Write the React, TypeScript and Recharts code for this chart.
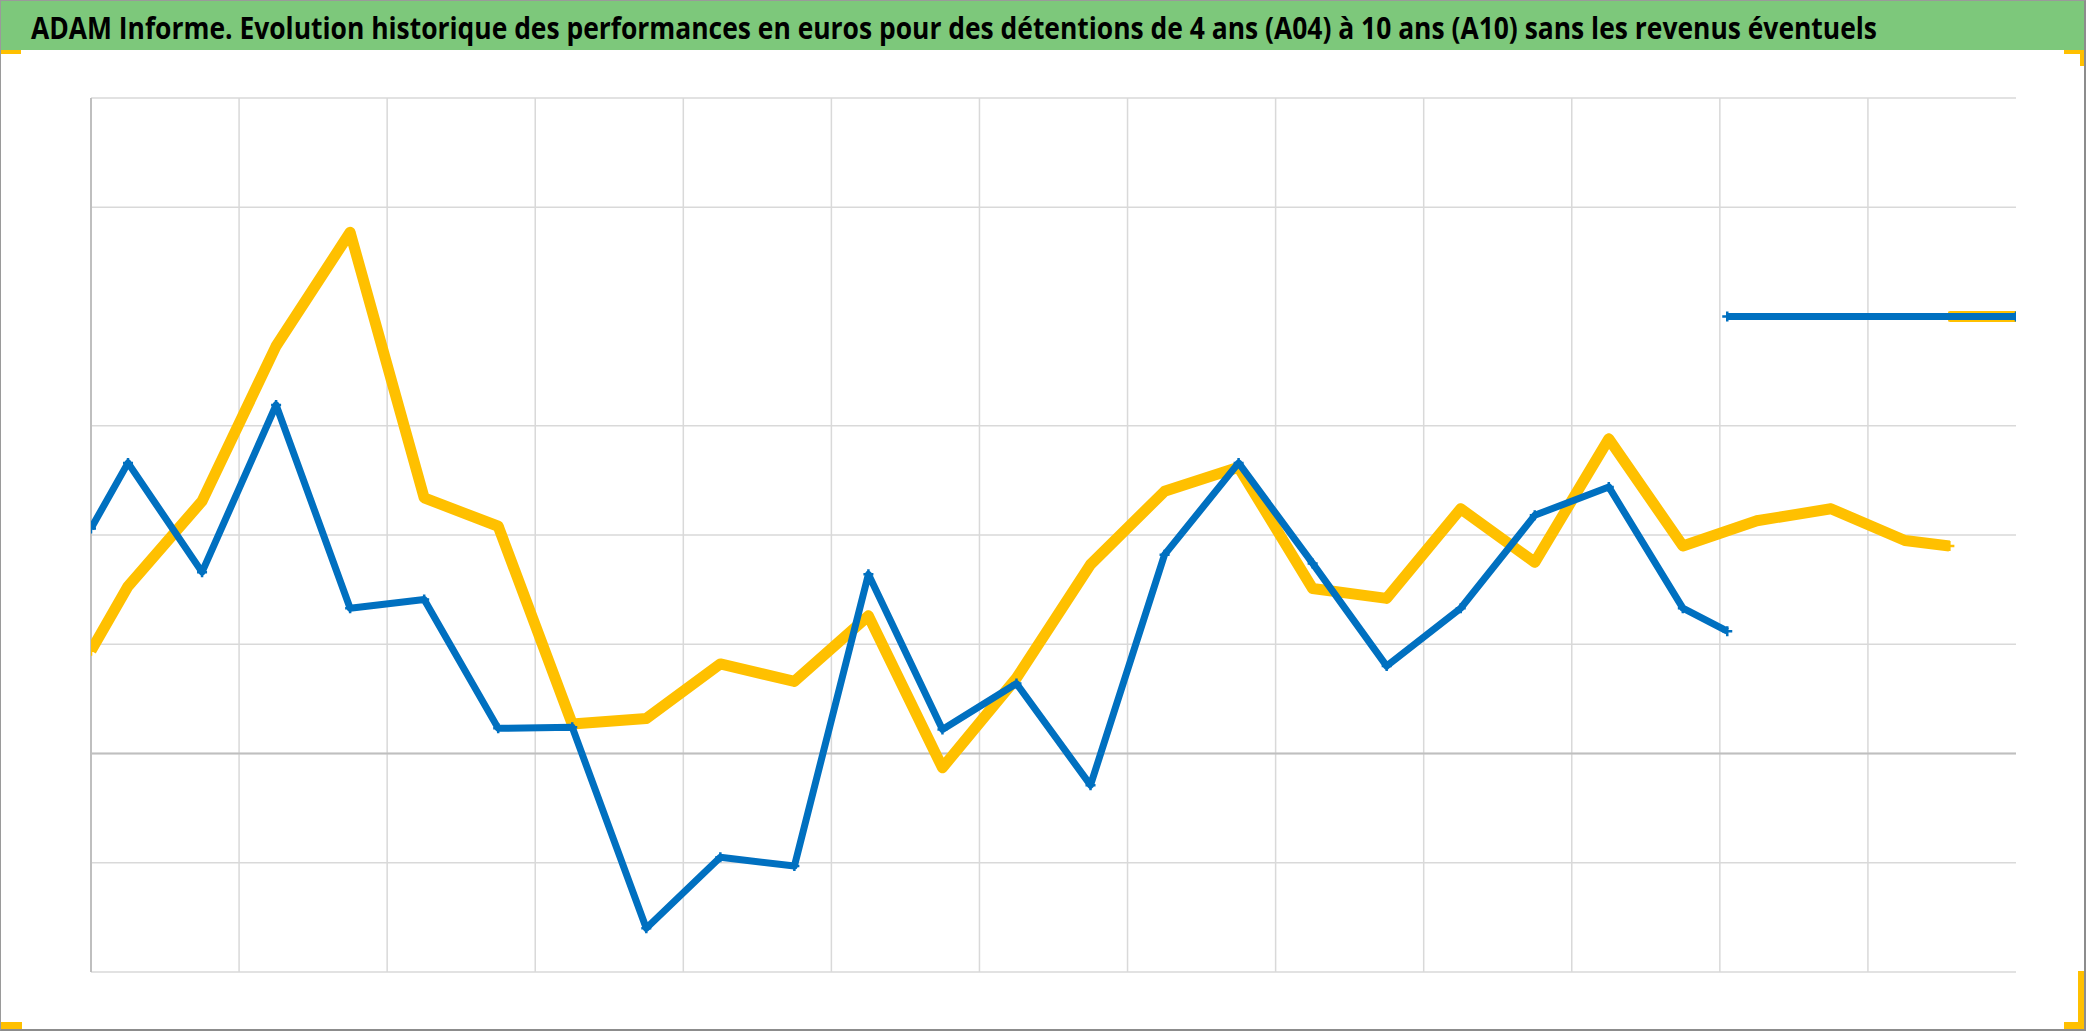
import { ScatterChart, Scatter, XAxis, YAxis, CartesianGrid, ReferenceLine } from 'recharts'

const title =
  'ADAM Informe. Evolution historique des performances en euros pour des détentions de 4 ans (A04) à 10 ans (A10) sans les revenus éventuels'

// abscisse : demi-intervalles de la grille (13 intervalles verticaux = 26 unités)
const xTicks = [0, 2, 4, 6, 8, 10, 12, 14, 16, 18, 20, 22, 24]
// la ligne à 40 n'apparaît pas dans l'original
const yTicks = [-20, -10, 0, 10, 20, 30, 50, 60]

const blueX = [0, 0.5, 1.5, 2.5, 3.5, 4.5, 5.5, 6.5, 7.5, 8.5, 9.5, 10.5, 11.5, 12.5, 13.5, 14.5, 15.5, 16.5, 17.5, 18.5, 19.5, 20.5, 21.5, 22.1]
const blueY = [20.6, 26.6, 16.6, 31.9, 13.3, 14.1, 2.3, 2.4, -16.0, -9.5, -10.3, 16.4, 2.2, 6.4, -2.9, 18.2, 26.6, 17.4, 8.0, 13.3, 21.8, 24.4, 13.3, 11.2]

const yellowX = [0, 0.5, 1.5, 2.5, 3.5, 4.5, 5.5, 6.5, 7.5, 8.5, 9.5, 10.5, 11.5, 12.5, 13.5, 14.5, 15.5, 16.5, 17.5, 18.5, 19.5, 20.5, 21.5, 22.5, 23.5, 24.5, 25.1]
const yellowY = [9.4, 15.3, 23.1, 37.3, 47.7, 23.4, 20.8, 2.7, 3.2, 8.2, 6.6, 12.6, -1.3, 6.9, 17.3, 24.0, 26.2, 15.1, 14.2, 22.4, 17.5, 28.8, 19.0, 21.3, 22.4, 19.5, 19.0]

// segments plats en fin de période
const blueFlatX = [22.1, 26]
const blueFlatY = [40, 40]
const yellowFlatX = [25.1, 26]
const yellowFlatY = [40, 40]

const BLUE = '#0070C0'
const YELLOW = '#FFC000'
const GRID = '#D9D9D9'
const AXIS = '#BFBFBF'

const toPoints = (xs: number[], ys: number[]) => xs.map((x, i) => ({ x, y: ys[i] }))

const Cross = (props: any) => {
  const { cx, cy, fill } = props
  if (cx == null || cy == null) return <g />
  return <path d={`M${cx - 5},${cy}h10M${cx},${cy - 5}v10`} stroke={fill} strokeWidth={2.5} />
}

const NoTick = () => <g />

const handle = { position: 'absolute' as const, background: YELLOW }

export default function App() {
  return (
    <div
      style={{
        position: 'absolute',
        left: 0,
        top: 0,
        width: 2086,
        height: 1031,
        background: '#fff',
        boxSizing: 'border-box',
        borderRight: '2px solid #8C8C8C',
        borderBottom: '2px solid #8C8C8C',
        borderTop: '1px solid #9A9A9A',
        borderLeft: '1px solid #9A9A9A',
        overflow: 'hidden',
      }}
    >
      <div style={{ position: 'absolute', left: 0, top: 0, width: 2086, height: 49, background: '#7DC87B' }} />
      <svg width={2086} height={60} style={{ position: 'absolute', left: 0, top: 0 }}>
        <text
          transform="translate(30,38) scale(0.81,1)"
          fontFamily="'Open Sans', sans-serif"
          fontWeight="bold"
          fontSize={31}
          fill="#000"
          textLength={2279}
          lengthAdjust="spacingAndGlyphs"
        >
          {title}
        </text>
      </svg>

      <div style={{ position: 'absolute', left: 0, top: 0 }}>
        <ScatterChart width={2086} height={1031} margin={{ top: 97, right: 71, bottom: 60, left: 90 }}>
          <CartesianGrid stroke={GRID} strokeWidth={1.5} vertical={false} horizontalValues={yTicks} />
          <XAxis
            type="number"
            dataKey="x"
            domain={[0, 26]}
            ticks={xTicks}
            interval={0}
            tick={NoTick}
            tickLine={false}
            axisLine={false}
            height={0}
            allowDataOverflow
          />
          <YAxis
            type="number"
            dataKey="y"
            domain={[-20, 60]}
            ticks={yTicks}
            interval={0}
            tick={NoTick}
            tickLine={false}
            axisLine={false}
            width={0}
            allowDataOverflow
          />
          {xTicks.map((t) => (
            <ReferenceLine
              key={t}
              x={t}
              stroke={t === 0 ? AXIS : GRID}
              strokeWidth={t === 0 ? 2 : 1.5}
            />
          ))}
          <ReferenceLine y={0} stroke={AXIS} strokeWidth={2} />
          <Scatter
            data={toPoints(yellowX, yellowY)}
            fill={YELLOW}
            line={{ stroke: YELLOW, strokeWidth: 11, strokeLinejoin: 'round' }}
            shape={<Cross />}
            isAnimationActive={false}
          />
          <Scatter
            data={toPoints(yellowFlatX, yellowFlatY)}
            fill={YELLOW}
            line={{ stroke: YELLOW, strokeWidth: 11 }}
            shape={<Cross />}
            isAnimationActive={false}
          />
          <Scatter
            data={toPoints(blueX, blueY)}
            fill={BLUE}
            line={{ stroke: BLUE, strokeWidth: 7, strokeLinejoin: 'round' }}
            shape={<Cross />}
            isAnimationActive={false}
          />
          <Scatter
            data={toPoints(blueFlatX, blueFlatY)}
            fill={BLUE}
            line={{ stroke: BLUE, strokeWidth: 7 }}
            shape={<Cross />}
            isAnimationActive={false}
          />
        </ScatterChart>
      </div>

      {/* poignées de sélection jaunes */}
      <div style={{ ...handle, left: 0, top: 49, width: 20, height: 4 }} />
      <div style={{ ...handle, left: 2063, top: 49, width: 20, height: 4 }} />
      <div style={{ ...handle, left: 2079, top: 49, width: 4, height: 16 }} />
      <div style={{ ...handle, left: 0, top: 1021, width: 21, height: 8 }} />
      <div style={{ ...handle, left: 2063, top: 1021, width: 20, height: 8 }} />
      <div style={{ ...handle, left: 2077, top: 970, width: 6, height: 59 }} />
    </div>
  )
}
